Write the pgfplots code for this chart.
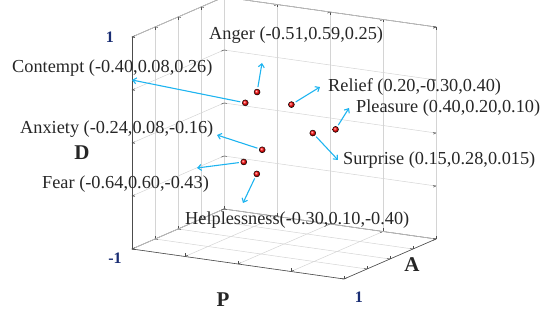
\documentclass[border=0pt]{standalone}
\usepackage{fontspec}
\setmainfont{Liberation Serif}
\usepackage{pgfplots}
\pgfplotsset{compat=1.18}
\usetikzlibrary{arrows.meta,calc}
\definecolor{arrowblue}{RGB}{30,180,240}
\definecolor{ticknavy}{RGB}{25,45,115}
\begin{document}
\begin{tikzpicture}
\begin{axis}[
  x={(106pt,-15pt)}, y={(46pt,20pt)}, z={(0pt,106pt)},
  xmin=-1, xmax=1, ymin=-1, ymax=1, zmin=-1, zmax=1,
  xtick={-1,-0.5,...,1}, ytick={-1,-0.5,...,1}, ztick={-1,-0.5,...,1},
  xticklabels={,,,,}, yticklabels={,,,,}, zticklabels={,,,,},
  grid=major, grid style={black!17, line width=0.5pt},
  axis line style={black!70, line width=0.6pt},
  tick style={black!70, line width=0.5pt},
  major tick length=3pt,
  clip=false,
]
% P, A, D
\addplot3[only marks, mark=ball, mark options={ball color=red}, mark size=3pt] coordinates {
  (-0.51, 0.59, 0.25)
  (-0.40, 0.08, 0.26)
  (-0.24, 0.08, -0.16)
  (-0.64, 0.60, -0.43)
  (-0.30, 0.10, -0.40)
  (0.20, -0.30, 0.40)
  (0.40, 0.20, 0.10)
  (0.15, 0.28, 0.015)
};
\coordinate (O) at (axis cs:0,0,0);
\coordinate (anger) at (axis cs:-0.51,0.59,0.25);
\coordinate (contempt) at (axis cs:-0.40,0.08,0.26);
\coordinate (anxiety) at (axis cs:-0.24,0.08,-0.16);
\coordinate (fear) at (axis cs:-0.64,0.60,-0.43);
\coordinate (help) at (axis cs:-0.30,0.10,-0.40);
\coordinate (relief) at (axis cs:0.20,-0.30,0.40);
\coordinate (pleasure) at (axis cs:0.40,0.20,0.10);
\coordinate (surprise) at (axis cs:0.15,0.28,0.015);
\end{axis}

% annotations, in pixel units of the reference
\begin{scope}[x=1pt, y=-1pt, shift={(O)}, shift={(-284,-138)},
  lab/.style={anchor=west, inner sep=0pt, text=black!85, font=\fontsize{18.3}{20}\selectfont},
  arr/.style={arrowblue, line width=1.1pt, -{Straight Barb[length=3.5pt,width=6pt]}},
  tl/.style={text=ticknavy, font=\bfseries\fontsize{16}{18}\selectfont},
  al/.style={text=black!85, font=\bfseries\fontsize{21}{22}\selectfont}]
  \draw[arr] ($(anger)!5pt!(262,63)$) -- (262,63);
  \draw[arr] ($(contempt)!5pt!(132,80)$) -- (132,80);
  \draw[arr] ($(anxiety)!5pt!(217,135)$) -- (217,135);
  \draw[arr] ($(fear)!5pt!(197,168)$) -- (197,168);
  \draw[arr] ($(help)!5pt!(243,203)$) -- (243,203);
  \draw[arr] ($(relief)!5pt!(320,87)$) -- (320,87);
  \draw[arr] ($(pleasure)!5pt!(349,108)$) -- (349,108);
  \draw[arr] ($(surprise)!5pt!(338,160)$) -- (338,160);

  \node[lab] at (209,35) {Anger (-0.51,0.59,0.25)};
  \node[lab] at (12,68) {Contempt (-0.40,0.08,0.26)};
  \node[lab] at (20,129) {Anxiety (-0.24,0.08,-0.16)};
  \node[lab] at (42,184) {Fear (-0.64,0.60,-0.43)};
  \node[lab] at (185,220) {Helplessness(-0.30,0.10,-0.40)};
  \node[lab] at (328,87) {Relief (0.20,-0.30,0.40)};
  \node[lab] at (356,108) {Pleasure (0.40,0.20,0.10)};
  \node[lab] at (343,160) {Surprise (0.15,0.28,0.015)};

  \node[al] at (82,153) {D};
  \node[al] at (223,300) {P};
  \node[al] at (412,265) {A};
  \node[tl] at (110,37) {1};
  \node[tl] at (115,258) {-1};
  \node[tl] at (359,297) {1};

  \pgfresetboundingbox
  \path (0,0) rectangle (550,326);
\end{scope}
\end{tikzpicture}
\end{document}
